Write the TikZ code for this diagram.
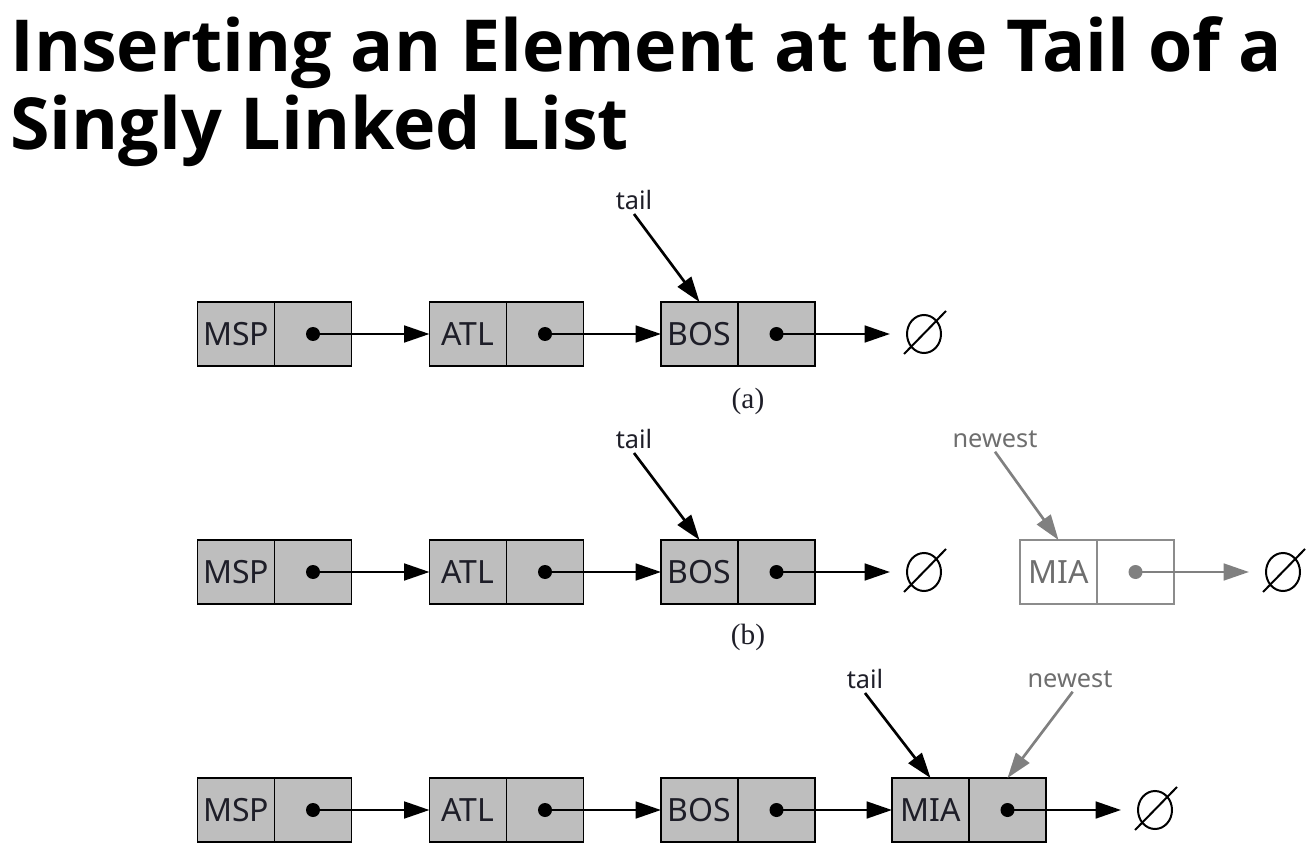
\documentclass[tikz,border=0pt]{standalone}
\usepackage{fontspec}
\setmainfont{Noto Sans}
\newfontfamily\capfont{Liberation Serif}
\newfontfamily\titlefont{Open Sans}
\usetikzlibrary{arrows.meta}
\definecolor{cellgray}{RGB}{190,190,190}
\definecolor{textdark}{RGB}{30,30,40}
\definecolor{midgray}{RGB}{128,128,128}
\definecolor{lightedge}{RGB}{140,140,140}
\definecolor{labelgray}{RGB}{110,110,110}
\begin{document}
\begin{tikzpicture}[x=0.75pt,y=-0.75pt,
  cell/.style={draw=black, line width=1.2pt, fill=cellgray, minimum width=57.75pt,
    minimum height=48pt, inner sep=0pt, outer sep=0pt, text=textdark,
    font=\fontsize{24}{27}\selectfont},
  ghostcell/.style={cell, draw=lightedge, fill=white, text=labelgray},
  ptr/.style={-{Triangle[length=19pt,width=12.5pt]}, line width=2pt},
  ghostptr/.style={ptr, draw=midgray, fill=midgray},
  nullnode/.style={minimum width=51pt, minimum height=30pt, inner sep=0pt, outer sep=0pt},
  nullline/.style={line width=1.5pt},
  lbl/.style={font=\fontsize{19}{22}\selectfont, text=textdark, inner sep=3pt},
  ghostlbl/.style={lbl, text=labelgray},
  caption/.style={font=\capfont\fontsize{22}{26}\selectfont, text=textdark},
  title/.style={font=\titlefont\bfseries\fontsize{53.8}{60}\selectfont, anchor=base west, inner sep=0pt}
]
\useasboundingbox (0,0) rectangle (1314,866);
\newcommand\nullmark[1]{%
  \draw[nullline] (#1.center) ellipse (17 and 19);
  \draw[nullline] ([shift={(-20,20)}]#1.center) -- ([shift={(22,-23)}]#1.center);}
\newcommand\dotat[2][black]{\fill[#1] (#2.center) circle (7);}

% title
\node[title] (t1) at (10,72) {Inserting an Element at the Tail of a};
\node[title] (t2) at (10,150) {Singly Linked List};

% ---------- row (a)
\node[cell] (a1d) at (236,334) {MSP};
\node[cell, anchor=west] (a1p) at (a1d.east) {};
\node[cell] (a2d) at (468,334) {ATL};
\node[cell, anchor=west] (a2p) at (a2d.east) {};
\node[cell] (a3d) at (699.5,334) {BOS};
\node[cell, anchor=west] (a3p) at (a3d.east) {};
\node[nullnode] (a0) at (924,334) {};
\nullmark{a0}
\dotat{a1p}\dotat{a2p}\dotat{a3p}
\draw[ptr] (a1p.center) -- (a2d.west);
\draw[ptr] (a2p.center) -- (a3d.west);
\draw[ptr] (a3p.center) -- (a0.west);
\node[lbl] (atail) at (634,200) {tail};
\draw[ptr] (atail.south) -- (a3d.north);
\node[caption] (acap) at (748,401) {(a)};

% ---------- row (b)
\node[cell] (b1d) at (236,572) {MSP};
\node[cell, anchor=west] (b1p) at (b1d.east) {};
\node[cell] (b2d) at (468,572) {ATL};
\node[cell, anchor=west] (b2p) at (b2d.east) {};
\node[cell] (b3d) at (699.5,572) {BOS};
\node[cell, anchor=west] (b3p) at (b3d.east) {};
\node[nullnode] (b0) at (924,572) {};
\nullmark{b0}
\dotat{b1p}\dotat{b2p}\dotat{b3p}
\draw[ptr] (b1p.center) -- (b2d.west);
\draw[ptr] (b2p.center) -- (b3d.west);
\draw[ptr] (b3p.center) -- (b0.west);
\node[lbl] (btail) at (634,439) {tail};
\draw[ptr] (btail.south) -- (b3d.north);
\node[ghostcell] (b4d) at (1058.5,572) {MIA};
\node[ghostcell, anchor=west] (b4p) at (b4d.east) {};
\node[nullnode] (b5) at (1283,572) {};
\nullmark{b5}
\dotat[midgray]{b4p}
\draw[ghostptr] (b4p.center) -- (b5.west);
\node[ghostlbl] (bnew) at (995,439) {newest};
\draw[ghostptr] (bnew.south) -- (b4d.north);
\node[caption] (bcap) at (748,637) {(b)};

% ---------- row (c)
\node[cell] (c1d) at (236,810) {MSP};
\node[cell, anchor=west] (c1p) at (c1d.east) {};
\node[cell] (c2d) at (468,810) {ATL};
\node[cell, anchor=west] (c2p) at (c2d.east) {};
\node[cell] (c3d) at (699.5,810) {BOS};
\node[cell, anchor=west] (c3p) at (c3d.east) {};
\node[cell] (c4d) at (930.5,810) {MIA};
\node[cell, anchor=west] (c4p) at (c4d.east) {};
\node[nullnode] (c0) at (1155,810) {};
\nullmark{c0}
\dotat{c1p}\dotat{c2p}\dotat{c3p}\dotat{c4p}
\draw[ptr] (c1p.center) -- (c2d.west);
\draw[ptr] (c2p.center) -- (c3d.west);
\draw[ptr] (c3p.center) -- (c4d.west);
\draw[ptr] (c4p.center) -- (c0.west);
\node[lbl] (ctail) at (865,679) {tail};
\draw[ptr] (ctail.south) -- (c4d.north);
\node[ghostlbl] (cnew) at (1070,679) {newest};
\draw[ghostptr] ([xshift=2pt]cnew.south) -- (c4p.north);
\end{tikzpicture}
\end{document}
